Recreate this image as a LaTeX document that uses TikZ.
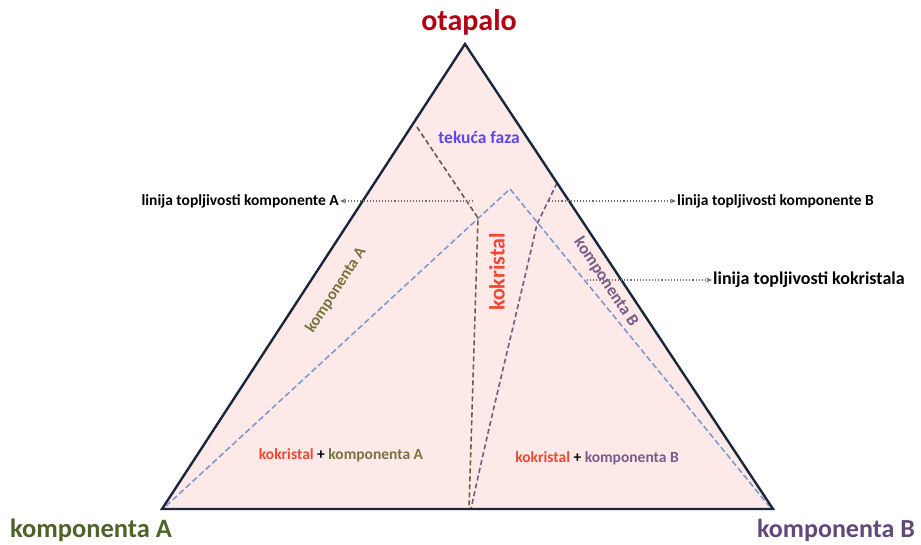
\documentclass[tikz,border=0pt]{standalone}
\usepackage{fontspec}
\setmainfont{Carlito}
\usetikzlibrary{arrows.meta}
\definecolor{fillpink}{RGB}{253,233,231}
\definecolor{edgenavy}{RGB}{25,38,60}
\definecolor{lineblue}{RGB}{120,152,208}
\definecolor{lineolive}{RGB}{100,95,55}
\definecolor{linepurple}{RGB}{120,88,130}
\definecolor{txtred}{RGB}{176,0,18}
\definecolor{txtviolet}{RGB}{90,72,232}
\definecolor{txtorange}{RGB}{242,72,50}
\definecolor{txtolive}{RGB}{118,116,62}
\definecolor{txtpurple}{RGB}{122,92,138}
\definecolor{txtdkolive}{RGB}{79,98,40}
\definecolor{txtdkpurple}{RGB}{96,73,122}
\definecolor{dotgray}{RGB}{110,110,110}
\tikzset{
  lbl/.style={font=\bfseries, inner sep=1pt},
  dashline/.style={dash pattern=on 5pt off 3pt, line width=1.6pt},
  pointer/.style={dotgray, dotted, line width=1.1pt, -{Stealth[length=6pt,width=5pt]}},
}
\begin{document}
\begin{tikzpicture}[x=1pt,y=-1pt]
\useasboundingbox (0,0) rectangle (921,544);
% triangle
\coordinate (T) at (465,44);
\coordinate (L) at (162,509);
\coordinate (R) at (773,509);
\fill[fillpink] (T) -- (L) -- (R) -- cycle;
% blue dashed cocrystal line
\coordinate (bl) at (166,506);
\coordinate (bp) at (510,189);
\coordinate (br) at (769,506);
\draw[lineblue, dash pattern=on 6pt off 3pt, line width=1.5pt] (bl) -- (bp) -- (br);
% olive dashed
\coordinate (oa) at (417,127);
\coordinate (ob) at (478,218);
\coordinate (oc) at (469,509);
\draw[lineolive, dashline] (oa) -- (ob) -- (oc);
% purple dashed
\coordinate (pa) at (557,183);
\coordinate (pb) at (537,224);
\coordinate (pc) at (471,509);
\draw[linepurple, dashline] (pa) -- (pb) .. controls (520,300) and (490,420) .. (pc);
% triangle outline
\draw[edgenavy, line width=2.4pt, line join=miter] (T) -- (L) -- (R) -- cycle;
% labels
\node[lbl, txtred, font=\bfseries\fontsize{30}{31}\selectfont] (ot) at (469,22) {otapalo};
\node[lbl, txtviolet, font=\bfseries\fontsize{17.5}{18}\selectfont] (tf) at (479,137) {tekuća faza};
\node[lbl, black, font=\bfseries\fontsize{15.5}{16}\selectfont, anchor=east] (la) at (340,201) {linija topljivosti komponente A};
\node[lbl, black, font=\bfseries\fontsize{15.5}{16}\selectfont, anchor=west] (lb) at (676,201) {linija topljivosti komponente B};
\node[lbl, black, font=\bfseries\fontsize{18}{19}\selectfont, anchor=west] (lk) at (712,280) {linija topljivosti kokristala};
\coordinate (sa) at (473,201);
\coordinate (sb) at (549,201);
\coordinate (sk) at (587,280);
\draw[pointer] (sa) -- (la);
\draw[pointer] (sb) -- (lb);
\draw[pointer] (sk) -- (lk);
\node[lbl, txtorange, font=\bfseries\fontsize{22}{23}\selectfont, rotate=90] (kk) at (497,272) {kokristal};
\node[lbl, txtolive, font=\bfseries\fontsize{16}{17}\selectfont, rotate=57] (ka) at (336,290) {komponenta A};
\node[lbl, txtpurple, font=\bfseries\fontsize{17}{18}\selectfont, rotate=-56.5] (kb) at (606,282) {komponenta B};
\node[lbl, font=\bfseries\fontsize{15.5}{16}\selectfont] (ra) at (341,455) {\textcolor{txtorange}{kokristal} + \textcolor{txtolive}{komponenta A}};
\node[lbl, font=\bfseries\fontsize{15.5}{16}\selectfont] (rb) at (597,458) {\textcolor{txtorange}{kokristal} + \textcolor{txtpurple}{komponenta B}};
\node[lbl, txtdkolive, font=\bfseries\fontsize{26.5}{27}\selectfont] (ca) at (91,530) {komponenta A};
\node[lbl, txtdkpurple, font=\bfseries\fontsize{26}{27}\selectfont] (cb) at (836,530) {komponenta B};
\end{tikzpicture}
\end{document}
